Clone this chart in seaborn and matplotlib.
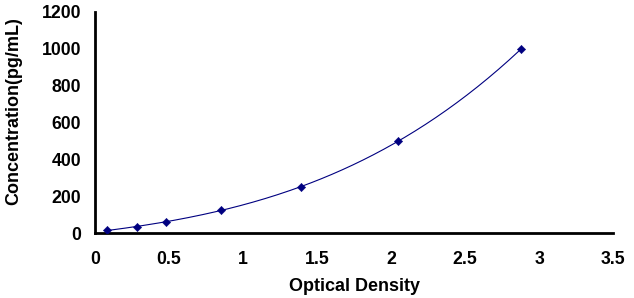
import matplotlib
matplotlib.use('Agg')
import matplotlib.pyplot as plt
import numpy as np
import pandas as pd
import seaborn as sns

# standard curve points
od = [0.08, 0.28, 0.48, 0.85, 1.39, 2.05, 2.88]
conc = [15.6, 31.2, 62.5, 125, 250, 500, 1000]

x_ticks = [0, 0.5, 1, 1.5, 2, 2.5, 3, 3.5]
y_ticks = [0, 200, 400, 600, 800, 1000, 1200]

df = pd.DataFrame({'od': od, 'conc': conc})

# fitted curve through the standards
coef = np.polyfit(df['od'], df['conc'], 3)
xs = np.linspace(min(od), max(od), 200)
df_fit = pd.DataFrame({'od': xs, 'conc': np.polyval(coef, xs)})

sns.set_style('white', {'text.color': 'black', 'axes.labelcolor': 'black',
                        'xtick.color': 'black', 'ytick.color': 'black'})
plt.rcParams['font.family'] = ['Liberation Sans', 'DejaVu Sans']

fig = plt.figure(figsize=(6.34, 2.98), dpi=100)
ax = fig.add_axes([0.150, 0.218, 0.817, 0.742])

sns.lineplot(data=df_fit, x='od', y='conc', ax=ax, color='#000080', linewidth=0.8)
sns.scatterplot(data=df, x='od', y='conc', ax=ax, marker='D', s=18, color='#000080', edgecolor='#000080', zorder=3)

ax.set_xlim(0, 3.5)
ax.set_ylim(0, 1200)
ax.set_xticks(x_ticks)
ax.set_xticklabels(['0', '0.5', '1', '1.5', '2', '2.5', '3', '3.5'])
ax.set_yticks(y_ticks)
ax.tick_params(axis='both', direction='out', length=6, width=2, color='black',
               labelcolor='black', labelsize=12.7)
ax.tick_params(axis='x', pad=7)
ax.tick_params(axis='y', pad=4)
for lbl in ax.get_xticklabels() + ax.get_yticklabels():
    lbl.set_fontweight('bold')

for side in ['top', 'right']:
    ax.spines[side].set_visible(False)
for side in ['left', 'bottom']:
    ax.spines[side].set_linewidth(2)
    ax.spines[side].set_color('black')

ax.set_xlabel('Optical Density', fontsize=13, fontweight='bold', color='black', labelpad=7)
ax.set_ylabel('Concentration(pg/mL)', fontsize=13, fontweight='bold', color='black', labelpad=10)
ax.yaxis.set_label_coords(-0.14, 0.55)

fig.savefig('out.png', dpi=100)
plt.close(fig)
